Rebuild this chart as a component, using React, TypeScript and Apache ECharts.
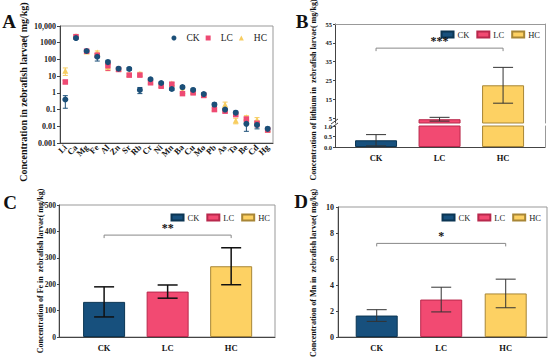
import React, { useEffect, useRef } from 'react';
import * as echarts from 'echarts';

// ---------- Data ----------
const elements = ['Li', 'Ca', 'Mg', 'Fe', 'Al', 'Zn', 'Sr', 'Rb', 'Cr', 'Ni', 'Mn', 'Ba', 'Cu', 'Mo', 'Pb', 'As', 'Ta', 'Be', 'Cd', 'Hg'];
const ckMean = [0.4, 1900, 320, 145, 69, 28, 27, 1.5, 6.5, 3.9, 1.7, 2.2, 1.5, 0.85, 0.2, 0.1, 0.065, 0.014, 0.012, 0.007];
const ckSd = [0.28, 300, 30, 65, 20, 5, 5, 0.6, 1, 0.5, 0.3, 0.4, 0.2, 0.15, 0.05, 0.02, 0.015, 0.009, 0.005, 0.002];
const lcMean = [4.5, 2300, 310, 180, 42, 25, 11.5, 11.5, 4.0, 2.5, 3.3, 0.9, 1.0, 0.7, 0.1, 0.08, 0.05, 0.027, 0.015, 0.006];
const lcSd = [1.0, 300, 30, 50, 20, 4, 2, 2, 0.8, 0.4, 0.6, 0.15, 0.15, 0.1, 0.02, 0.015, 0.01, 0.008, 0.006, 0.0015];
const hcMean = [21, 2500, 300, 260, 36, 27, 13, 14, 5, 3, 3.6, 1.3, 1.2, 0.75, 0.12, 0.2, 0.022, 0.035, 0.025, 0.0065];
const hcSd = [10, 300, 30, 60, 15, 4, 2, 3, 1, 0.5, 0.6, 0.3, 0.2, 0.1, 0.03, 0.08, 0.008, 0.008, 0.008, 0.0015];

const groups = ['CK', 'LC', 'HC'];
const liMean = [0.32, 4.5, 22.5];
const liSd = [0.27, 1.0, 9.5];
const feMean = [133, 172, 268];
const feSd = [57, 25, 70];
const mnMean = [1.65, 2.88, 3.35];
const mnSd = [0.45, 0.95, 1.1];
const sigStars = ['***', '**', '*'];
const sigLevels = [42.2, 386, 7.2];
const liUpperTicks = [5, 15, 25, 35, 45, 55];

// ---------- Styles ----------
const F = "'Liberation Serif', 'Times New Roman', serif";
const fills = ['#17507d', '#f24a72', '#fdd163'];
const borders = ['#0b3553', '#b8284c', '#a88636'];
const dotColors = ['#1b4f78', '#ee4a73', '#f7cd60'];
const AX = '#444';
const FR = '#999';

const errRender = (color: string, lw: number, cap: number) => (params: any, api: any) => {
  const x = api.value(0), m = api.value(1), s = api.value(2);
  const hi = api.coord([x, m + s]);
  const lo = api.coord([x, m - s]);
  const st = { stroke: color, lineWidth: lw };
  return {
    type: 'group',
    children: [
      { type: 'line', shape: { x1: hi[0], y1: hi[1], x2: lo[0], y2: lo[1] }, style: st },
      { type: 'line', shape: { x1: hi[0] - cap, y1: hi[1], x2: hi[0] + cap, y2: hi[1] }, style: st },
      { type: 'line', shape: { x1: lo[0] - cap, y1: lo[1], x2: lo[0] + cap, y2: lo[1] }, style: st },
    ],
  };
};

const bracketRender = (stars: string) => (params: any, api: any) => {
  const p0 = api.coord([api.value(0), api.value(2)]);
  const p1 = api.coord([api.value(1), api.value(2)]);
  return {
    type: 'group',
    children: [
      {
        type: 'polyline',
        shape: { points: [[p0[0], p0[1] + 3], [p0[0], p0[1]], [p1[0], p1[1]], [p1[0], p1[1] + 3]] },
        style: { stroke: '#888', lineWidth: 1, fill: null },
      },
      {
        type: 'text',
        x: (p0[0] + p1[0]) / 2,
        y: p0[1] - 1,
        style: { text: stars, align: 'center', verticalAlign: 'bottom', fontFamily: F, fontWeight: 'bold', fontSize: 12, fill: '#111' },
      },
    ],
  };
};

const valueAxisLabel = { fontFamily: F, fontWeight: 'bold', color: '#222' };

function barX(gridIndex: number, min: number, max: number, withLabels: boolean, position = 'bottom', lineColor = AX) {
  return {
    type: 'value', gridIndex, min, max, position,
    axisLine: { show: true, onZero: false, lineStyle: { color: lineColor } },
    axisTick: { show: false },
    splitLine: { show: false },
    axisLabel: withLabels
      ? { show: true, customValues: [0, 1, 2], formatter: (v: number) => groups[v] ?? '', fontFamily: F, fontWeight: 'bold', fontSize: 8.5, color: '#111', margin: 6 }
      : { show: false },
  };
}

function barSeries(panel: string, xi: number, yi: number, mean: number[]) {
  return groups.map((g, i) => ({
    type: 'bar', name: panel + '-' + g, xAxisIndex: xi, yAxisIndex: yi,
    data: [[i, mean[i]]], barWidth: 42, barGap: '-100%', silent: true,
    itemStyle: { color: fills[i], borderColor: borders[i], borderWidth: 1 }, z: 2,
  }));
}

function errSeries(xi: number, yi: number, mean: number[], sd: number[], color: string, lw: number, cap: number, keep: (i: number) => boolean) {
  return {
    type: 'custom', xAxisIndex: xi, yAxisIndex: yi, silent: true, z: 4,
    encode: { x: 0, y: 1 },
    data: mean.map((m, i) => [i, m, sd[i]]).filter((_, i) => keep(i)),
    renderItem: errRender(color, lw, cap),
  };
}

function bracketSeries(xi: number, yi: number, k: number) {
  return {
    type: 'custom', xAxisIndex: xi, yAxisIndex: yi, silent: true, z: 5,
    encode: { x: [0, 1], y: 2 },
    data: [[0, 2, sigLevels[k]]],
    renderItem: bracketRender(sigStars[k]),
  };
}

function barLegend(panel: string, right: number, top: number) {
  return {
    data: groups.map((g) => panel + '-' + g), right, top,
    icon: 'rect', itemWidth: 12, itemHeight: 6, itemGap: 7,
    formatter: (n: string) => n.split('-')[1],
    textStyle: { fontFamily: F, fontSize: 8.5, color: '#222', padding: [0, 0, 0, -1] },
    selectedMode: false,
  };
}

function vText(text: string, x: number, y: number, size: number) {
  return {
    type: 'text', x, y, rotation: Math.PI / 2,
    style: { text, fontFamily: F, fontWeight: 'bold', fontSize: size, fill: '#111', align: 'center', verticalAlign: 'middle' },
  };
}

function letter(text: string, x: number, y: number) {
  return { type: 'text', x, y, style: { text, fontFamily: F, fontWeight: 'bold', fontSize: 19, fill: '#111', align: 'center', verticalAlign: 'middle' } };
}

function buildOption(): any {
  const aSeries: any[] = [];
  const aData = [
    { g: 'HC', mean: hcMean, sd: hcSd, c: dotColors[2], sym: 'triangle', size: 6 },
    { g: 'LC', mean: lcMean, sd: lcSd, c: dotColors[1], sym: 'rect', size: 5.5 },
    { g: 'CK', mean: ckMean, sd: ckSd, c: dotColors[0], sym: 'circle', size: 6 },
  ];
  aData.forEach((d) => {
    aSeries.push({
      type: 'custom', xAxisIndex: 0, yAxisIndex: 0, silent: true, z: 2,
      encode: { x: 0, y: 1 },
      data: d.mean.map((m, i) => [i, m, d.sd[i]]),
      renderItem: errRender(d.c, 1, 2.5),
    });
    aSeries.push({
      type: 'scatter', name: 'A-' + d.g, xAxisIndex: 0, yAxisIndex: 0, silent: true, z: 3,
      data: d.mean.map((m, i) => [i, m]), symbol: d.sym, symbolSize: d.size,
      itemStyle: { color: d.c, opacity: 1 },
    });
  });

  return {
    animation: false,
    textStyle: { fontFamily: F },
    grid: [
      { left: 60, top: 26, width: 213, height: 117, show: true, borderColor: FR, borderWidth: 1 },
      { left: 335, top: 24, width: 210, height: 99 },
      { left: 335, top: 126, width: 210, height: 21 },
      { left: 59, top: 205, width: 216, height: 132, show: true, borderColor: FR, borderWidth: 1 },
      { left: 338, top: 207, width: 209, height: 130, show: true, borderColor: FR, borderWidth: 1 },
    ],
    xAxis: [
      {
        type: 'category', gridIndex: 0, data: elements, boundaryGap: true,
        axisLine: { show: true, onZero: false, lineStyle: { color: AX } },
        axisTick: { show: false },
        axisLabel: { rotate: 45, margin: 3, fontFamily: F, fontWeight: 'bold', fontSize: 8.5, color: '#111', interval: 0 },
      },
      barX(1, -0.646, 2.66, false, 'top', FR),
      barX(2, -0.646, 2.66, true),
      barX(3, -0.71, 2.69, true),
      barX(4, -0.6, 2.64, true),
    ],
    yAxis: [
      {
        type: 'log', gridIndex: 0, logBase: 10, min: 0.001, max: 10000,
        axisLine: { show: true, onZero: false, lineStyle: { color: AX } },
        axisTick: { show: true, length: 3, lineStyle: { color: AX } },
        splitLine: { show: false }, minorTick: { show: false },
        axisLabel: {
          ...valueAxisLabel, fontSize: 8, margin: 4,
          formatter: (v: number) => (v >= 10000 ? '10,000' : v >= 1 ? String(Math.round(v)) : String(parseFloat(v.toPrecision(1)))),
        },
      },
      {
        type: 'value', gridIndex: 1, min: 2.5, max: 55,
        axisLine: { show: true, onZero: false, lineStyle: { color: AX } },
        axisTick: { show: true, length: 2, customValues: liUpperTicks, lineStyle: { color: AX } },
        splitLine: { show: false },
        axisLabel: { ...valueAxisLabel, fontSize: 6.5, margin: 3, customValues: liUpperTicks },
      },
      {
        type: 'value', gridIndex: 2, min: 0, max: 1, interval: 0.5,
        axisLine: { show: true, onZero: false, lineStyle: { color: AX } },
        axisTick: { show: true, length: 2, lineStyle: { color: AX } },
        splitLine: { show: false },
        axisLabel: { ...valueAxisLabel, fontSize: 6.5, margin: 3, formatter: (v: number) => v.toFixed(1) },
      },
      {
        type: 'value', gridIndex: 1, min: 2.5, max: 55, position: 'right',
        axisLine: { show: true, onZero: false, lineStyle: { color: FR } },
        axisTick: { show: false }, axisLabel: { show: false }, splitLine: { show: false },
      },
      {
        type: 'value', gridIndex: 2, min: 0, max: 1, position: 'right',
        axisLine: { show: true, onZero: false, lineStyle: { color: FR } },
        axisTick: { show: false }, axisLabel: { show: false }, splitLine: { show: false },
      },
      {
        type: 'value', gridIndex: 3, min: 0, max: 500, interval: 100,
        axisLine: { show: true, onZero: false, lineStyle: { color: AX } },
        axisTick: { show: true, length: 2, lineStyle: { color: AX } },
        splitLine: { show: false },
        axisLabel: { ...valueAxisLabel, fontSize: 7.5, margin: 3 },
      },
      {
        type: 'value', gridIndex: 4, min: 0, max: 10, interval: 2,
        axisLine: { show: true, onZero: false, lineStyle: { color: AX } },
        axisTick: { show: true, length: 2, lineStyle: { color: AX } },
        splitLine: { show: false },
        axisLabel: { ...valueAxisLabel, fontSize: 8, margin: 4 },
      },
    ],
    legend: [
      {
        data: ['A-CK', 'A-LC', 'A-HC'], right: 278, top: 28,
        itemWidth: 5, itemHeight: 5, itemGap: 6,
        formatter: (n: string) => n.split('-')[1],
        textStyle: { fontFamily: F, fontSize: 9.5, color: '#222', padding: [0, 0, 0, 5] },
        selectedMode: false,
      },
      barLegend('B', 5, 25),
      barLegend('C', 275, 208),
      barLegend('D', 4, 208),
    ],
    graphic: [
      letter('A', 9, 21),
      letter('B', 302, 21),
      letter('C', 10, 202),
      letter('D', 301, 201),
      vText('Concentration in zebrafish larvae( mg/kg)', 23, 92, 10),
      vText('Concentration of lithium in  zebrafish larvae( mg/kg)', 313, 90, 8),
      vText('Concentration of Fe in  zebrafish larvae( mg/kg)', 40, 271, 8),
      vText('Concentration of Mn in  zebrafish larvae( mg/kg)', 313, 273, 8),
      { type: 'line', shape: { x1: 331, y1: 124, x2: 338, y2: 119 }, style: { stroke: AX, lineWidth: 1 } },
      { type: 'line', shape: { x1: 331, y1: 128, x2: 338, y2: 123 }, style: { stroke: AX, lineWidth: 1 } },
    ],
    series: [
      ...aSeries,
      ...barSeries('B', 1, 1, liMean),
      ...barSeries('B', 2, 2, liMean),
      errSeries(1, 1, liMean, liSd, '#333', 1, 10, (i) => liMean[i] + liSd[i] > 1),
      errSeries(2, 2, liMean, liSd, '#333', 1, 10, (i) => liMean[i] + liSd[i] <= 1),
      bracketSeries(1, 1, 0),
      ...barSeries('C', 3, 5, feMean),
      errSeries(3, 5, feMean, feSd, '#111', 1.5, 10, () => true),
      bracketSeries(3, 5, 1),
      ...barSeries('D', 4, 6, mnMean),
      errSeries(4, 6, mnMean, mnSd, '#333', 1, 10, () => true),
      bracketSeries(4, 6, 2),
    ],
  };
}

export default function App() {
  const ref = useRef<HTMLDivElement>(null);
  useEffect(() => {
    if (!ref.current) return;
    const chart = echarts.init(ref.current, undefined, { renderer: 'svg' });
    chart.setOption(buildOption());
    return () => chart.dispose();
  }, []);
  return <div ref={ref} style={{ position: 'fixed', left: 0, top: 0, width: 550, height: 357, background: '#fff' }} />;
}
